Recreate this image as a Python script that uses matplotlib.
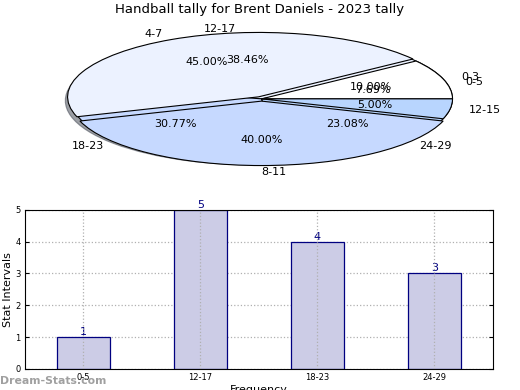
import matplotlib
matplotlib.use('Agg')
import matplotlib.pyplot as plt
import numpy as np

# --- data ---
TITLE = "Handball tally for Brent Daniels - 2023 tally"
pie_a_labels = ['0-3', '4-7', '8-11', '12-15']
pie_a_values = [2, 9, 8, 1]
pie_a_explode = [0, 0.035, 0.035, 0]
pie_b_labels = ['0-5', '12-17', '18-23', '24-29']
pie_b_values = [1, 5, 4, 3]
bar_labels = ['0-5', '12-17', '18-23', '24-29']
bar_values = [1, 5, 4, 3]

PIE_COLORS = ['#ffffff', '#ecf2ff', '#c6d9ff', '#b8d5fe']
BAR_FACE = '#ccccE6'
BAR_EDGE = '#000080'

fig = plt.figure(figsize=(5.2, 3.9), dpi=100)
fig.patch.set_facecolor('white')

# --- pie (squashed ellipse) ---
ax1 = fig.add_axes([0.044, 0.54, 0.918, 0.413])
wp = dict(edgecolor='black', linewidth=0.8)
ax1.pie(pie_b_values, labels=pie_b_labels, colors=PIE_COLORS, autopct='%.2f%%',
        shadow=True, wedgeprops=wp, textprops=dict(fontsize=8))
ax1.pie(pie_a_values, labels=pie_a_labels, colors=PIE_COLORS, autopct='%.2f%%',
        explode=pie_a_explode, wedgeprops=wp, textprops=dict(fontsize=8))
ax1.set_aspect('auto')
ax1.set_xlim(-1.25, 1.25)
ax1.set_ylim(-1.25, 1.25)
ax1.axis('off')
fig.text(0.5, 0.975, TITLE, ha='center', va='center', fontsize=9.5)

# --- bars ---
ax2 = fig.add_axes([0.048, 0.054, 0.9, 0.408])
x = np.arange(len(bar_values))
ax2.bar(x, bar_values, width=0.45, color=BAR_FACE, edgecolor=BAR_EDGE, linewidth=0.9, zorder=2)
for xi, v in zip(x, bar_values):
    ax2.text(xi, v, str(v), ha='center', va='bottom', color=BAR_EDGE, fontsize=8, clip_on=False)
ax2.set_xlim(-0.5, len(bar_values) - 0.5)
ax2.set_ylim(0, 5)
ax2.set_xticks(x)
ax2.set_xticklabels(bar_labels)
ax2.set_yticks(range(0, 6))
ax2.tick_params(labelsize=6, direction='in', length=3, pad=3, top=False, right=True)
ax2.set_axisbelow(True)
ax2.yaxis.grid(True, linestyle=':', color='#b0b0b0', linewidth=0.9)
ax2.vlines(x, 0, 5, linestyles=':', colors='#b0b0b0', linewidth=0.9, zorder=3)
ax2.set_ylabel('Stat Intervals', fontsize=8, labelpad=2)
ax2.set_xlabel('Frequency', fontsize=8, labelpad=2)

fig.text(0.0, 0.024, 'Dream-Stats.com', ha='left', va='center', fontsize=7.8,
         color='#a0a0a0', fontweight='bold')

fig.savefig('out.png', dpi=100)
